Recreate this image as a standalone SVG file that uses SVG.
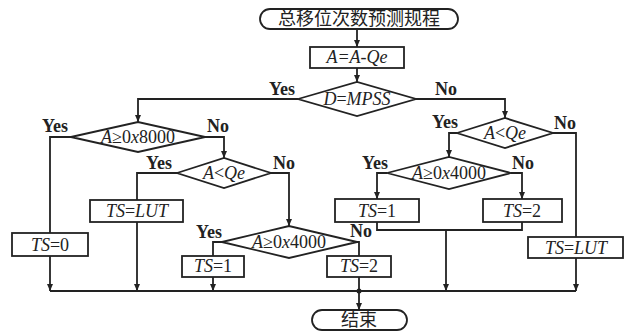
<svg xmlns="http://www.w3.org/2000/svg" width="627" height="332" viewBox="0 0 627 332">
<defs>
<marker id="ah" markerWidth="8" markerHeight="8" refX="7" refY="4" orient="auto" markerUnits="userSpaceOnUse">
<path d="M0,1 L7,4 L0,7 Z" fill="#222"/>
</marker>
<style>
.s{fill:#fff;stroke:#222;stroke-width:1.8}
.c{fill:none;stroke:#222;stroke-width:1.8}
.a{marker-end:url(#ah)}
.t{font-family:"Liberation Serif","Times New Roman",serif;font-size:18px;fill:#222;text-anchor:middle}
.i{font-style:italic}
.l{font-family:"Liberation Serif","Times New Roman",serif;font-size:18px;font-weight:bold;fill:#222}
.cj{font-family:"Noto Sans CJK SC",sans-serif;font-size:18px;fill:#222;text-anchor:middle}
</style>
</defs>
<rect width="627" height="332" fill="#fff"/>
<g id="connectors">
<path class="c a" d="M357,29 V47"/>
<path class="c a" d="M357,68 V82"/>
<path class="c a" d="M298,99 H138 V122"/>
<path class="c a" d="M416,99 H505 V118"/>
<path class="c" d="M71,137 H50 V233"/>
<path class="c a" d="M205,137 H224 V158"/>
<path class="c" d="M177,173 H137 V200"/>
<path class="c a" d="M271,173 H289 V226"/>
<path class="c" d="M222,242 H213 V256"/>
<path class="c" d="M357,242 H359 V256"/>
<path class="c a" d="M50,256 V291"/>
<path class="c a" d="M137,222 V291"/>
<path class="c a" d="M213,277 V291"/>
<path class="c a" d="M359,277 V310"/>
<circle cx="359" cy="291" r="2.5" fill="#222"/>
<path class="c a" d="M457,133 H449 V157"/>
<path class="c" d="M553,133 H576 V237"/>
<path class="c a" d="M576,258 V291"/>
<path class="c a" d="M387,173 H377 V199"/>
<path class="c a" d="M511,173 H522 V199"/>
<path class="c" d="M377,222 V230 H522 V222"/>
<path class="c a" d="M446,230 V291"/>
<path class="c" d="M50,291 H576"/>
<text class="l" x="295" y="95" text-anchor="end">Yes</text>
<text class="l" x="435" y="95">No</text>
<text class="l" x="68" y="132" text-anchor="end">Yes</text>
<text class="l" x="207" y="132">No</text>
<text class="l" x="172" y="169" text-anchor="end">Yes</text>
<text class="l" x="273" y="169">No</text>
<text class="l" x="222" y="238" text-anchor="end">Yes</text>
<text class="l" x="350" y="237">No</text>
<text class="l" x="458" y="128" text-anchor="end">Yes</text>
<text class="l" x="554" y="129">No</text>
<text class="l" x="388" y="169" text-anchor="end">Yes</text>
<text class="l" x="512" y="169">No</text>
</g>
<g id="start">
<rect class="s" x="260" y="9" width="198" height="20" rx="10"/>
<text class="cj" x="359" y="25">总移位次数预测规程</text>
</g>
<g id="calcA">
<rect class="s" x="310" y="47" width="94" height="21"/>
<text class="t i" x="357" y="63">A=A-Qe</text>
</g>
<g id="dMPSS">
<polygon class="s" points="298,99 357,82 416,99 357,116"/>
<text class="t" x="357" y="105"><tspan class="i">D</tspan>=<tspan class="i">MPSS</tspan></text>
</g>
<g id="dA8000">
<polygon class="s" points="71,137 138,122 205,137 138,152"/>
<text class="t" x="138" y="143"><tspan class="i">A</tspan>≥0<tspan class="i">x</tspan>8000</text>
</g>
<g id="dAQeL">
<polygon class="s" points="177,173 224,158 271,173 224,188"/>
<text class="t" x="224" y="179"><tspan class="i">A</tspan>&lt;<tspan class="i">Qe</tspan></text>
</g>
<g id="dA4000L">
<polygon class="s" points="222,242 289,226 357,242 289,258"/>
<text class="t" x="289" y="248"><tspan class="i">A</tspan>≥0<tspan class="i">x</tspan>4000</text>
</g>
<g id="ts0">
<rect class="s" x="12" y="233" width="76" height="23"/>
<text class="t" x="50" y="251"><tspan class="i">TS</tspan>=0</text>
</g>
<g id="tsLutL">
<rect class="s" x="90" y="200" width="93" height="22"/>
<text class="t" x="137" y="217"><tspan class="i">TS</tspan>=<tspan class="i">LUT</tspan></text>
</g>
<g id="ts1L">
<rect class="s" x="182" y="256" width="62" height="21"/>
<text class="t" x="213" y="272"><tspan class="i">TS</tspan>=1</text>
</g>
<g id="ts2L">
<rect class="s" x="327" y="256" width="64" height="21"/>
<text class="t" x="359" y="272"><tspan class="i">TS</tspan>=2</text>
</g>
<g id="dAQeR">
<polygon class="s" points="457,133 505,118 553,133 505,148"/>
<text class="t" x="505" y="139"><tspan class="i">A</tspan>&lt;<tspan class="i">Qe</tspan></text>
</g>
<g id="dA4000R">
<polygon class="s" points="387,173 449,157 511,173 449,189"/>
<text class="t" x="449" y="179"><tspan class="i">A</tspan>≥0<tspan class="i">x</tspan>4000</text>
</g>
<g id="ts1R">
<rect class="s" x="335" y="199" width="84" height="23"/>
<text class="t" x="377" y="217"><tspan class="i">TS</tspan>=1</text>
</g>
<g id="ts2R">
<rect class="s" x="483" y="199" width="79" height="23"/>
<text class="t" x="522" y="217"><tspan class="i">TS</tspan>=2</text>
</g>
<g id="tsLutR">
<rect class="s" x="528" y="237" width="95" height="21"/>
<text class="t" x="576" y="254"><tspan class="i">TS</tspan>=<tspan class="i">LUT</tspan></text>
</g>
<g id="end">
<rect class="s" x="312" y="310" width="95" height="20" rx="10"/>
<text class="cj" x="359" y="326">结束</text>
</g>
</svg>
